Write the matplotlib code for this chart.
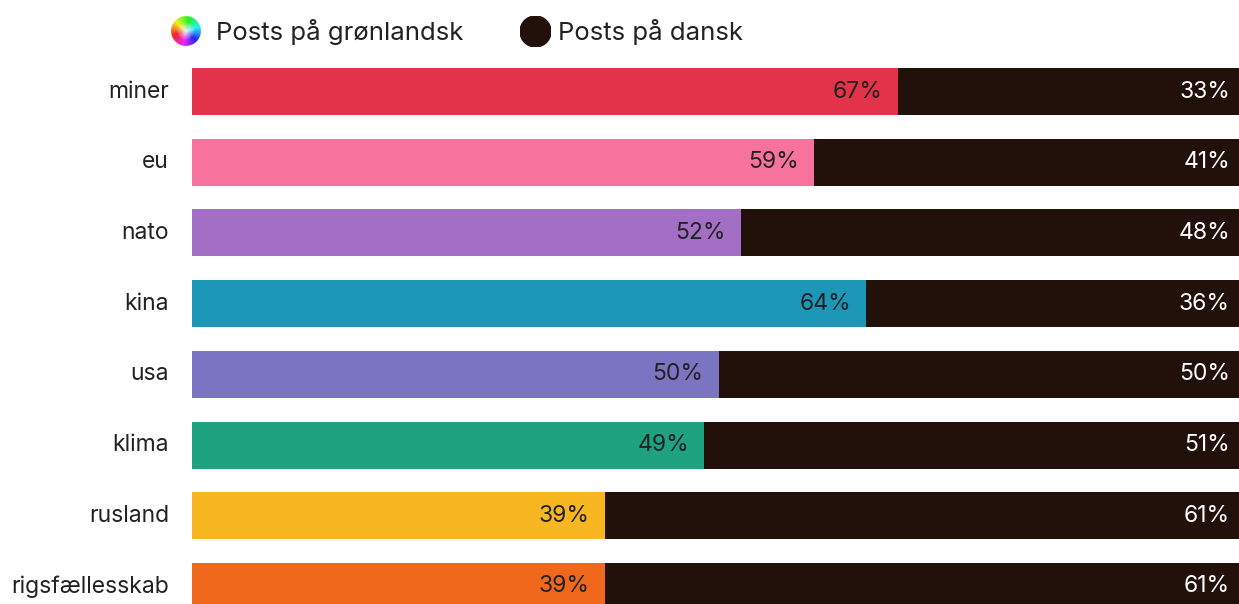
import numpy as np
import matplotlib.pyplot as plt
from matplotlib.colors import hsv_to_rgb

# share of posts in greenlandic, per topic
topics = ['miner', 'eu', 'nato', 'kina', 'usa', 'klima', 'rusland', 'rigsfællesskab']
greenlandic = [67.4, 59.4, 52.4, 64.4, 50.3, 48.9, 39.4, 39.4]
danish = [100 - v for v in greenlandic]
colors = ['#E2334A', '#F7739E', '#A26FC4', '#1C97B8', '#7A74C2', '#1FA27F', '#F8B720', '#F0681C']
dark = '#22110B'
legend_labels = ['Posts på grønlandsk', 'Posts på dansk']

plt.rcParams['font.family'] = ['Inter', 'DejaVu Sans']

W, H = 1239, 604
fig = plt.figure(figsize=(W / 100, H / 100), dpi=100)
ax = fig.add_axes([192 / W, 0, 1 - 192 / W, 1])

y = np.arange(len(topics))
bar_h = 47 / 70.7
ax.barh(y, greenlandic, height=bar_h, color=colors)
ax.barh(y, danish, left=greenlandic, height=bar_h, color=dark)

ax.set_xlim(0, 100)
# map pixel rows to data so the bars sit where they sit in the original
ax.set_ylim((604 - 91.5) / 70.7, -91.5 / 70.7)
ax.axis('off')

pad = 15 / 1047 * 100
for i, (g, d) in enumerate(zip(greenlandic, danish)):
    ax.text(g - pad, i, f'{g:.0f}%', ha='right', va='center', fontsize=16.5, color='#222222')
    ax.text(100 - pad * 0.6, i, f'{d:.0f}%', ha='right', va='center', fontsize=16.5, color='white')
    ax.text(-23 / 1047 * 100, i, topics[i], ha='right', va='center', fontsize=16.5, color='#222222')

# legend: colour wheel + dark dot
wheel = fig.add_axes([171 / W, 1 - 46 / H, 30 / W, 30 / H])
n = 200
yy, xx = np.mgrid[-1:1:n * 1j, -1:1:n * 1j]
r = np.sqrt(xx ** 2 + yy ** 2)
hue = (np.arctan2(-yy, -xx) / (2 * np.pi) + 0.05) % 1
hsv = np.dstack([hue, np.clip(r * 1.6, 0, 1) * 0.85, np.ones_like(r) * 0.95])
rgb = hsv_to_rgb(hsv)
rgba = np.dstack([rgb, (r <= 1).astype(float)])
wheel.imshow(rgba, extent=(-1, 1, -1, 1))
wheel.axis('off')

dot = fig.add_axes([520 / W, 1 - 47 / H, 31 / W, 31 / H])
dot.add_patch(plt.Circle((0, 0), 1, color=dark))
dot.set_xlim(-1, 1)
dot.set_ylim(-1, 1)
dot.axis('off')

fig.text(216 / W, 1 - 32 / H, legend_labels[0], ha='left', va='center', fontsize=18.5, color='#222222')
fig.text(558 / W, 1 - 32 / H, legend_labels[1], ha='left', va='center', fontsize=18.5, color='#222222')

fig.savefig('out.png', dpi=100, facecolor='white')
